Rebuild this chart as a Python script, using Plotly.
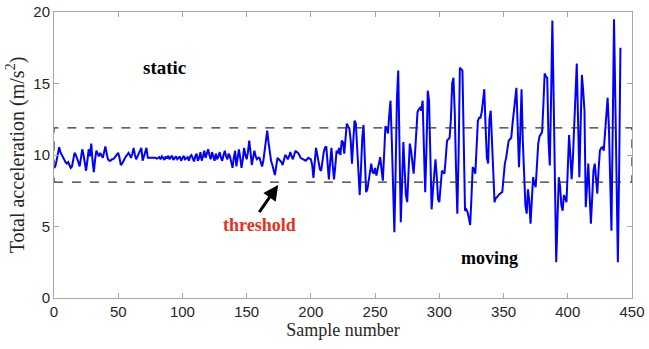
import plotly.graph_objects as go

static_vals = [
    9.1, 9.2, 9.6, 10.1, 10.55, 10.2, 10.0, 9.8, 9.6, 9.5,
    9.4, 9.5, 9.3, 9.1, 9.2, 9.7, 10.15, 10.0, 9.8, 9.5,
    9.2, 9.8, 10.4, 10.0, 9.3, 8.9, 9.6, 10.4, 9.9, 10.8,
    9.6, 8.8, 9.7, 10.3, 10.1, 9.9, 10.15, 10.0, 9.8, 10.2,
    10.6, 10.1, 9.7, 9.6, 9.6, 9.7, 9.7, 9.8, 9.9, 10.0,
    10.15, 9.8, 9.3, 9.4, 9.6, 9.8, 9.9, 10.0, 10.15, 10.0,
    9.8, 10.1, 10.5, 10.0, 9.7, 9.9, 10.15, 10.3, 10.5, 9.6,
    9.9, 10.2, 10.5, 9.8, 9.8, 9.85, 9.8, 9.8, 9.85, 9.8,
    9.75, 9.8, 9.85, 9.7, 9.9, 9.8, 9.65, 9.9, 9.75, 9.95,
    9.7, 9.85, 9.95, 9.65, 9.8, 9.9, 9.7, 9.85, 9.9, 9.6,
    9.8, 9.95, 9.7, 9.8, 9.85, 9.6, 9.9, 10.0, 9.7, 9.55,
    9.9, 10.1, 9.6, 9.8, 10.2, 9.6, 9.9, 10.3, 9.8, 10.1,
    10.4, 10.0, 9.7, 10.2, 9.8, 9.6, 10.1, 9.7, 9.9, 10.2,
    9.8, 9.6, 10.0, 10.3, 9.9, 9.7, 10.1, 9.9, 9.5, 9.1,
    9.8, 10.3, 9.2, 9.7, 10.4, 9.8, 9.1, 9.7, 10.5, 10.0,
    9.7, 10.2, 11.0, 10.2, 9.3, 9.8, 10.3, 9.9, 9.7, 9.8,
    9.8, 9.5, 9.2, 9.6, 10.4, 11.0, 11.7, 10.9, 10.0, 9.6,
    9.3, 9.0, 8.6, 9.2, 9.8, 9.7, 9.6, 9.5, 9.3, 9.7,
    10.0, 9.9, 9.7, 9.9, 10.2, 9.9, 9.7, 10.0, 10.3, 10.2,
    10.15, 10.0, 9.8, 9.75, 9.7, 9.6, 9.6, 9.7, 9.8, 9.75,
    9.7, 9.3, 8.4, 9.5, 10.5, 10.0, 9.3, 9.0, 8.9, 9.7,
    10.2, 10.5, 10.6, 9.4, 8.3, 9.5, 10.5, 9.3, 8.3, 9.2,
    10.3, 10.1, 10.5, 10.0, 11.0, 10.9, 10.1, 11.2, 12.2, 12.0,
]

moving_vals = [
    11.85, 11.0, 9.4, 11.0, 12.4, 12.2, 10.5, 8.5, 7.2, 9.0,
    11.2, 12.1, 9.5, 7.4, 7.6, 8.2, 8.9, 9.4, 8.8, 8.7,
    9.1, 8.56, 9.0, 9.5, 9.85, 9.0, 8.2, 10.0, 12.0, 11.9,
    11.5, 12.8, 13.8, 11.0, 7.5, 4.6, 9.0, 14.0, 15.9, 11.0,
    5.3, 8.0, 10.9, 9.0, 7.2, 6.7, 8.5, 10.8, 10.3, 9.5,
    8.7, 10.0, 11.8, 13.0, 13.2, 13.3, 13.1, 13.8, 10.5, 7.4,
    10.5, 14.5, 13.8, 10.0, 6.2, 7.5, 8.8, 9.7, 8.5, 6.9,
    6.7, 7.8, 8.9, 8.8, 8.7, 9.8, 11.0, 11.1, 11.2, 12.5,
    15.0, 15.4, 13.0, 9.0, 5.9, 10.0, 16.1, 16.0, 15.9, 11.0,
    6.1, 6.2, 6.0, 5.6, 5.1, 7.0, 9.15, 9.0, 8.7, 10.5,
    12.4, 12.6, 12.6, 13.0, 14.0, 14.6, 12.0, 9.8, 9.4, 12.5,
    13.1, 11.0, 8.0, 6.7, 7.0, 7.05, 7.2, 7.3, 7.35, 7.4,
    8.5, 9.4, 9.8, 10.5, 11.0, 11.1, 11.2, 12.2, 12.9, 13.8,
    14.7, 12.0, 9.15, 11.5, 14.6, 11.0, 8.2, 6.5, 5.9, 7.6,
    6.8, 5.2, 6.8, 8.45, 8.0, 7.75, 9.3, 10.8, 11.3, 11.5,
    11.6, 13.5, 15.7, 15.5, 15.4, 11.0, 9.27, 14.0, 19.4, 14.0,
    7.0, 2.5, 5.5, 8.45, 7.8, 6.5, 6.1, 7.2, 7.0, 6.7,
    9.0, 11.4, 10.0, 8.3, 9.8, 11.9, 14.0, 16.4, 12.5, 8.45,
    12.0, 15.6, 14.5, 13.1, 6.35, 8.0, 9.4, 7.2, 5.2, 7.0,
    8.9, 9.4, 8.5, 7.3, 9.0, 10.3, 10.5, 10.55, 10.3, 11.5,
    12.4, 14.0, 12.0, 8.0, 4.7, 12.0, 19.5, 14.0, 8.0, 2.5,
    9.0, 17.5,
]

acc = static_vals + moving_vals
samples = list(range(len(acc)))

thr_low = 8.1
thr_high = 11.9
x_ticks = [0, 50, 100, 150, 200, 250, 300, 350, 400, 450]
y_ticks = [0, 5, 10, 15, 20]

serif = "Liberation Serif, Times New Roman, serif"
sans = "Liberation Sans, Arial, sans-serif"

fig = go.Figure()
fig.add_trace(go.Scatter(x=samples, y=acc, mode="lines",
                         line=dict(color="#0000ff", width=2), showlegend=False))

fig.add_shape(type="rect", x0=0, x1=450, y0=thr_low, y1=thr_high,
              line=dict(color="#333333", width=1.3, dash="dash"))

fig.add_annotation(x=86, y=16.1, text="<b>static</b>", showarrow=False,
                   font=dict(family=serif, size=19, color="black"))
fig.add_annotation(x=339, y=2.8, text="<b>moving</b>", showarrow=False,
                   font=dict(family=serif, size=18, color="black"))
fig.add_annotation(x=160, y=5.1, text="<b>threshold</b>", showarrow=False,
                   font=dict(family=serif, size=18, color="#e8301a"))
fig.add_annotation(x=174.5, y=7.9, ax=159, ay=5.9, axref="x", ayref="y",
                   xref="x", yref="y", text="", showarrow=True,
                   arrowhead=2, arrowsize=1, arrowwidth=3, arrowcolor="black")

axis_common = dict(showline=True, linecolor="#a6a6a6", linewidth=1, mirror="ticks",
                   ticks="inside", ticklen=5, tickcolor="#a6a6a6", showgrid=False,
                   zeroline=False, automargin=False,
                   tickfont=dict(family=sans, size=15, color="#262626"))

fig.update_xaxes(range=[0, 450], tickvals=x_ticks,
                 title=dict(text="Sample number", font=dict(family=serif, size=18, color="#262626"), standoff=2),
                 **axis_common)
fig.update_yaxes(range=[0, 20], tickvals=y_ticks,
                 title=dict(text="Total acceleration (m/s<sup>2</sup>)", font=dict(family=serif, size=20, color="#262626"), standoff=3),
                 **axis_common)

fig.update_layout(width=649, height=349, margin=dict(l=54, r=17, t=12, b=51),
                  plot_bgcolor="white", paper_bgcolor="white")

# remove the browser's default 8px body margin so the figure sits at the page corner
fig.write_html("out.html", config={"displayModeBar": False},
               post_script="document.body.style.margin='0';document.body.style.overflow='hidden';")
